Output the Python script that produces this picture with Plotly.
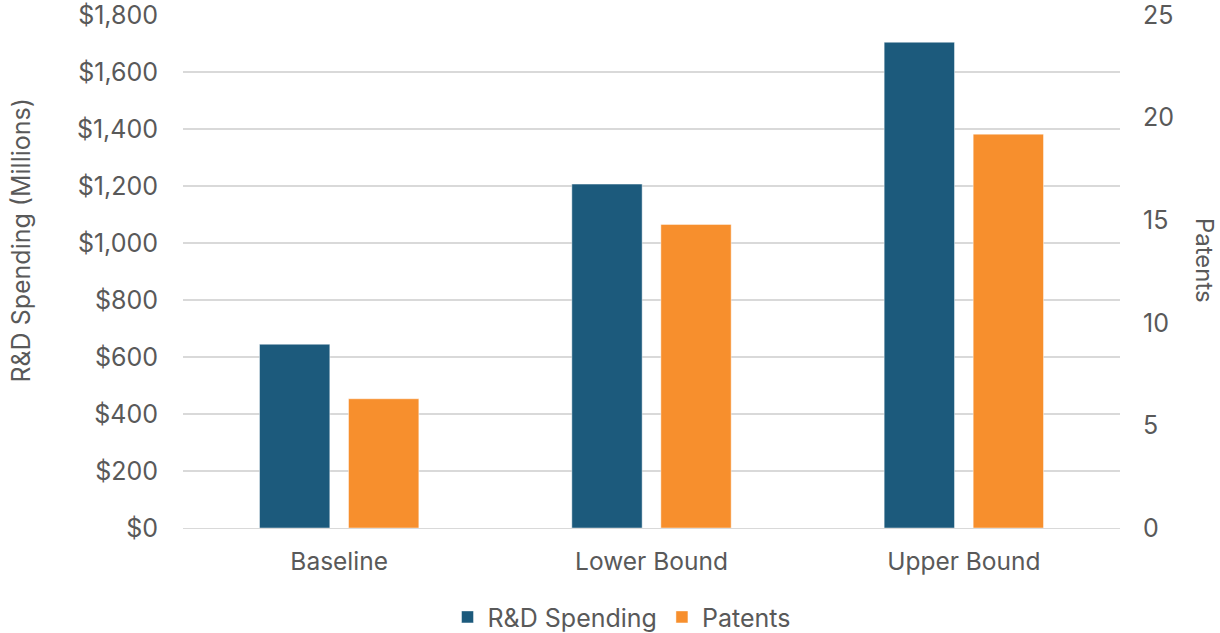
import plotly.graph_objects as go

# Scenario data
scenarios = ["Baseline", "Lower Bound", "Upper Bound"]
rd_spending = [645, 1207, 1705]     # $ millions
patents = [6.3, 14.8, 19.2]

left_ticks = list(range(0, 1801, 200))
left_tick_text = ["$" + format(v, ",") for v in left_ticks]
right_ticks = [0, 5, 10, 15, 20, 25]

FONT = "Inter"
GREY = "#595959"
BLUE = "#1C5A7C"
ORANGE = "#F78F2D"

fig = go.Figure()
fig.add_trace(go.Bar(
    x=scenarios, y=rd_spending, name="R&D Spending",
    marker=dict(color=BLUE, line=dict(color="rgba(255,255,255,0.45)", width=1)),
    offsetgroup="rd", yaxis="y",
))
fig.add_trace(go.Bar(
    x=scenarios, y=patents, name="Patents",
    marker=dict(color=ORANGE, line=dict(color="rgba(255,255,255,0.45)", width=1)),
    offsetgroup="pat", yaxis="y2",
))

fig.update_layout(
    width=1220, height=633,
    margin=dict(l=183, r=100, t=15, b=105, autoexpand=False),
    paper_bgcolor="white", plot_bgcolor="white",
    font=dict(family=FONT, color=GREY, size=24),
    barmode="group", bargap=0.43, bargroupgap=0.21,
    showlegend=True,
    legend=dict(orientation="h", x=0.468, xanchor="center",
                yref="container", y=0.025, yanchor="middle",
                font=dict(size=25, color=GREY), traceorder="normal"),
    xaxis=dict(showgrid=False, showline=True, linecolor="#D9D9D9", linewidth=1,
               ticks="", tickfont=dict(size=24.5, color=GREY), ticklabelstandoff=12),
    yaxis=dict(range=[0, 1800.5], tickvals=left_ticks, ticktext=left_tick_text,
               showgrid=True, gridcolor="#D9D9D9", gridwidth=1.5, zeroline=False,
               showline=False, ticks="", ticklabelstandoff=24,
               ticklabeloverflow="allow",
               tickfont=dict(size=25, color=GREY)),
    yaxis2=dict(range=[0, 25.007], tickvals=right_ticks, overlaying="y", side="right",
                showgrid=False, zeroline=False, showline=False, ticks="",
                ticklabelstandoff=22, ticklabeloverflow="allow",
                tickfont=dict(size=25, color=GREY)),
    annotations=[
        dict(text="R&D Spending (Millions)", xref="paper", yref="paper",
             x=-0.173, y=0.56, textangle=-90, showarrow=False,
             xanchor="center", yanchor="middle",
             font=dict(size=25, color=GREY)),
        dict(text="Patents", xref="paper", yref="paper",
             x=1.09, y=0.522, textangle=90, showarrow=False,
             xanchor="center", yanchor="middle",
             font=dict(size=24, color=GREY)),
    ],
)

fig.write_html("out.html")
